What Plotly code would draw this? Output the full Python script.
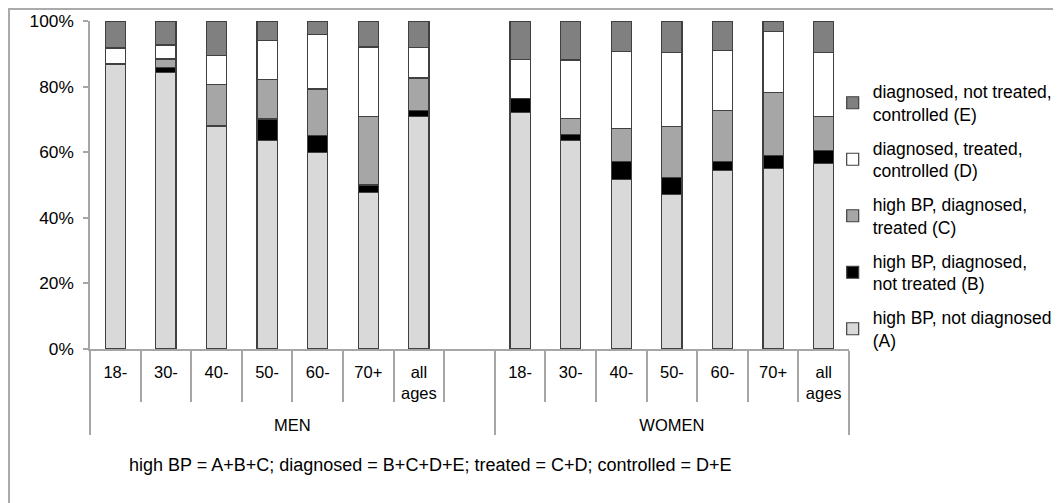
import plotly.graph_objects as go

SPACER = " <br> <br><span style='font-size:5px;color:white'>.</span>"
groups = ["MEN"] * 8 + ["WOMEN"] * 7
ages = ["18-", "30-", "40-", "50-", "60-", "70+", "all<br>ages", SPACER,
        "18-", "30-", "40-", "50-", "60-", "70+", "all<br>ages"]

# shares in % (None = empty spacer category)
A = [86.8, 84.4, 67.9, 63.5, 60.0, 47.8, 70.9, None, 72.1, 63.6, 51.6, 47.1, 54.5, 55.1, 56.6]
B = [0.2, 1.4, 0.2, 6.6, 5.1, 2.2, 1.7, None, 4.2, 1.7, 5.5, 5.2, 2.6, 3.8, 3.9]
C = [0.0, 2.6, 12.5, 12.1, 14.2, 21.0, 10.0, None, 0.0, 5.0, 10.2, 15.6, 15.6, 19.2, 10.3]
D = [4.8, 4.3, 8.8, 11.8, 16.7, 21.1, 9.4, None, 12.0, 17.8, 23.3, 22.5, 18.3, 18.8, 19.6]
E = [8.2, 7.3, 10.6, 6.0, 4.0, 7.9, 8.0, None, 11.7, 11.9, 9.4, 9.6, 9.0, 3.1, 9.6]

series = [
    ("high BP, not diagnosed<br>(A)", A, "#d9d9d9"),
    ("high BP, diagnosed,<br>not treated (B)", B, "#000000"),
    ("high BP, diagnosed,<br>treated (C)", C, "#a6a6a6"),
    ("diagnosed, treated,<br>controlled (D)", D, "#ffffff"),
    ("diagnosed, not treated,<br>controlled (E)", E, "#808080"),
]

FONT = "Liberation Sans, Arial, sans-serif"
fig = go.Figure()
n = len(series)
for i, (name, vals, col) in enumerate(series):
    fig.add_trace(go.Bar(
        x=[groups, ages], y=vals, name=name, legendgroup=f"g{i}",
        legendrank=n - i,
        marker=dict(color=col, line=dict(color="#404040", width=1.2)),
        width=0.4,
    ))

fig.update_layout(
    barmode="stack",
    width=1061, height=503,
    margin=dict(l=82, r=220, t=13, b=162, autoexpand=False),
    plot_bgcolor="white", paper_bgcolor="white",
    font=dict(family=FONT, size=17, color="#000000"),
    showlegend=True,
    legend=dict(
        x=0.9785, y=0.84, xanchor="left", yanchor="top",
        traceorder="grouped", font=dict(size=17.5),
        tracegroupgap=8, bgcolor="rgba(0,0,0,0)",
    ),
    xaxis=dict(
        type="multicategory", automargin=False,
        showline=True, linecolor="#a6a6a6", linewidth=1.5,
        ticks="outside", ticklen=51, tickcolor="#a6a6a6", tickwidth=1.5,
        showdividers=True, dividercolor="#a6a6a6", dividerwidth=1.5,
        tickfont=dict(size=16.5), ticklabelstandoff=7,
        showgrid=False,
    ),
    yaxis=dict(
        range=[0, 100], tickvals=[0, 20, 40, 60, 80, 100],
        ticktext=["0%", "20%", "40%", "60%", "80%", "100%"],
        automargin=False,
        showline=True, linecolor="#a6a6a6", linewidth=1.5,
        ticks="outside", ticklen=5, tickcolor="#a6a6a6", tickwidth=1.5,
        showgrid=False, zeroline=False, tickfont=dict(size=17.3),
        ticklabelstandoff=6,
    ),
    shapes=[dict(type="rect", xref="paper", yref="paper",
                 x0=-0.1067, x1=1.3, y0=-0.6, y1=1.0366,
                 line=dict(color="#aaaaaa", width=2), layer="above")],
    annotations=[dict(
        text="high BP = A+B+C; diagnosed = B+C+D+E; treated = C+D; controlled = D+E",
        xref="paper", yref="paper", x=0.449, y=-0.354,
        xanchor="center", yanchor="middle", showarrow=False,
        font=dict(size=18),
    )],
)

fig.write_html("out.html")
